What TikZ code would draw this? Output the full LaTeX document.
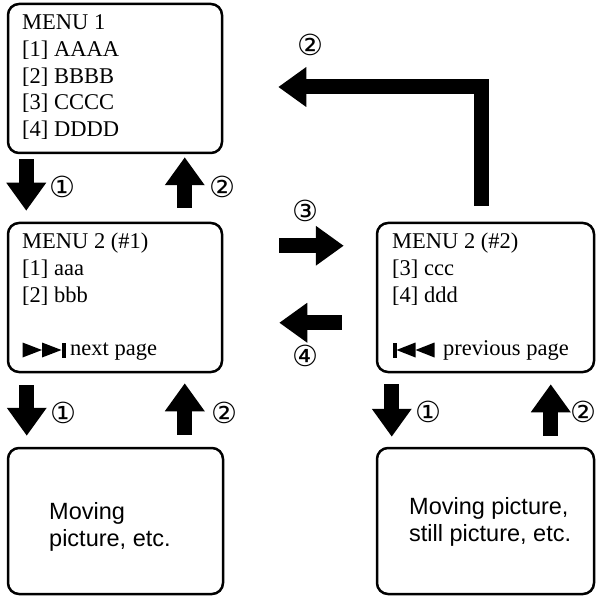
\documentclass[tikz,border=0pt]{standalone}
\usepackage{fontspec}
\setmainfont{Liberation Serif}
\setsansfont{Liberation Sans}
\newfontfamily\circfont{DejaVu Sans}
\usetikzlibrary{arrows.meta,calc}
\tikzset{
  box/.style={draw, line width=2.5pt, rounded corners=11pt, inner sep=0pt},
  menutxt/.style={anchor=base west, inner sep=0pt, font=\fontsize{22.5}{27}\selectfont},
  pictxt/.style={anchor=base west, inner sep=0pt, font=\sffamily\fontsize{23.5}{27}\selectfont},
  blockarrow/.style={line width=15pt, line join=miter, -{Triangle[length=28pt,width=38pt]}},
  circnum/.style={inner sep=0pt, font=\circfont\fontsize{29}{29}\selectfont},
}
\begin{document}
\begin{tikzpicture}[x=1pt,y=-1pt]
\useasboundingbox (0,0) rectangle (597,596);
% boxes
\node[box, minimum width=214pt, minimum height=149pt] (m1)  at (115,78.5) {};
\node[box, minimum width=214pt, minimum height=149pt] (m21) at (115,297.5) {};
\node[box, minimum width=217pt, minimum height=149pt] (m22) at (485.5,297.5) {};
\node[box, minimum width=215pt, minimum height=146pt] (p1)  at (115.5,521) {};
\node[box, minimum width=217pt, minimum height=146pt] (p2)  at (485.5,521) {};
% menu 1 text
\node[menutxt] (t11) at (22,30)    {MENU 1};
\node[menutxt] (t12) at (22,56.7)  {[1] AAAA};
\node[menutxt] (t13) at (22,83.3)  {[2] BBBB};
\node[menutxt] (t14) at (22,110)   {[3] CCCC};
\node[menutxt] (t15) at (22,136.7) {[4] DDDD};
% menu 2 (#1)
\node[menutxt] (t21) at (22,248) {MENU 2 (\#1)};
\node[menutxt] (t22) at (22,275) {[1] aaa};
\node[menutxt] (t23) at (22,302) {[2] bbb};
\node[menutxt] (t24) at (70,355) {next page};
\fill (22.5,342.5) -- (42,350) -- (22.5,357.5) -- cycle;
\fill (42,342.5) -- (61.5,350) -- (42,357.5) -- cycle;
\fill (61.5,342.5) rectangle (65.7,357.5);
% menu 2 (#2)
\node[menutxt] (t31) at (392,248) {MENU 2 (\#2)};
\node[menutxt] (t32) at (392,275) {[3] ccc};
\node[menutxt] (t33) at (392,302) {[4] ddd};
\node[menutxt] (t34) at (443,355) {previous page};
\fill (392.5,342.5) rectangle (396.7,357.5);
\fill (415.5,342.5) -- (396.5,350) -- (415.5,357.5) -- cycle;
\fill (434.5,342.5) -- (415.5,350) -- (434.5,357.5) -- cycle;
% picture boxes text
\node[pictxt] (u11) at (49,519) {Moving};
\node[pictxt] (u12) at (49,546) {picture, etc.};
\node[pictxt] (u21) at (409,514) {Moving picture,};
\node[pictxt] (u22) at (409,541) {still picture, etc.};
% arrows
\draw[blockarrow] ($(m1.south west)+(19.5,5)$) -- ($(m21.north west)+(19.5,-11)$);
\draw[blockarrow] ($(m21.north west)+(178,-14)$) -- ($(m1.south west)+(178,3)$);
\draw[blockarrow] ($(m21.south west)+(20,12)$) -- ($(p1.north west)+(20,-11)$);
\draw[blockarrow] ($(p1.north west)+(178,-12)$) -- ($(m21.south west)+(178,10)$);
\draw[blockarrow] ($(m22.south west)+(16,11)$) -- ($(p2.north west)+(16,-10)$);
\draw[blockarrow] ($(p2.north west)+(175,-11)$) -- ($(m22.south west)+(175,11)$);
\draw[blockarrow] ($(m21.north east)+(56,24)$) -- ($(m22.north west)+(-32,24)$);
\draw[blockarrow] ($(m22.north west)+(-34,101)$) -- ($(m21.north east)+(56,101)$);
\draw[blockarrow] ($(m22.north west)+(105.5,-16)$) |- ($(m1.east)+(55,8.5)$);
% circled numbers
\node[circnum] (c1) at (62.5,186.5) {①};
\node[circnum] (c2) at (222.5,186.5) {②};
\node[circnum] (c3) at (310,45) {②};
\node[circnum] (c4) at (305,210.5) {③};
\node[circnum] (c5) at (305,355.5) {④};
\node[circnum] (c6) at (63,413) {①};
\node[circnum] (c7) at (224,413) {②};
\node[circnum] (c8) at (428,412) {①};
\node[circnum] (c9) at (583,412) {②};
\end{tikzpicture}
\end{document}
